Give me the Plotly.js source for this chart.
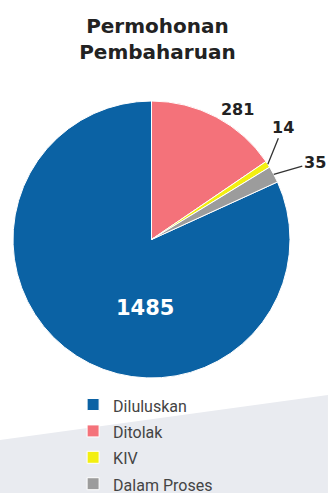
<!DOCTYPE html>
<html>
<head>
<meta charset="utf-8">
<script src="https://cdn.plot.ly/plotly-3.0.1.min.js"></script>
<style>html,body{margin:0;padding:0;background:#fff;}#chart{width:328px;height:493px;}</style>
</head>
<body>
<div id="chart"></div>
<script>
const categories = ['Diluluskan', 'Ditolak', 'KIV', 'Dalam Proses'];
const values = [1485, 281, 14, 35];
const colors = ['#0b62a4', '#f4727a', '#f3ef10', '#9c9c9c'];
const chartTitle = 'Permohonan<br>Pembaharuan';

const total = values.reduce((a, b) => a + b, 0);
const startRotation = (1 - values[0] / total) * 360;

// mid-angle (clockwise from 12 o'clock) of slice i, derived from the values
function midAngle(i) {
  let before = 0;
  for (let k = 0; k < i; k++) before += values[k];
  const startDeg = startRotation + before / total * 360;
  return (startDeg + values[i] / total * 180) * Math.PI / 180;
}
// point on the pie rim in paper coordinates (pie fills the square domain)
function rimPoint(i) {
  const a = midAngle(i);
  return { x: 0.5 + 0.5 * Math.sin(a), y: 0.5 + 0.5 * Math.cos(a) };
}

const trace = {
  type: 'pie',
  labels: categories.map(c => '<span style="font-size:16px">' + c + '</span>'),
  values: values,
  sort: false,
  direction: 'clockwise',
  rotation: startRotation,
  marker: { colors: colors, line: { color: '#ffffff', width: 1 } },
  texttemplate: ['', '%{value}', '', ''],
  textposition: ['none', 'outside', 'none', 'none'],
  outsidetextfont: { family: 'DejaVu Sans', size: 16, color: '#222222', weight: 'bold' },
  hoverinfo: 'label+value',
  showlegend: true
};

const labelFont = { family: 'DejaVu Sans', size: 16, color: '#222222', weight: 'bold' };
const p2 = rimPoint(2), p3 = rimPoint(3);

const annotations = [
  {
    xref: 'paper', yref: 'paper', x: 0.4765, y: 0.202,
    text: String(values[0]), showarrow: false,
    font: { family: 'DejaVu Sans', size: 21, color: '#ffffff', weight: 'bold' }
  },
  {
    xref: 'paper', yref: 'paper', x: p2.x, y: p2.y,
    text: String(values[2]), showarrow: true, arrowhead: 0,
    arrowwidth: 1.3, arrowcolor: '#333333', standoff: 0,
    ax: 15, ay: -37, font: labelFont
  },
  {
    xref: 'paper', yref: 'paper', x: p3.x, y: p3.y,
    text: String(values[3]), showarrow: true, arrowhead: 0,
    arrowwidth: 1.3, arrowcolor: '#333333', standoff: 0,
    ax: 41, ay: -12, font: labelFont
  }
];

const layout = {
  width: 328,
  height: 493,
  margin: { l: 13, r: 38, t: 101, b: 115, autoexpand: false },
  paper_bgcolor: '#ffffff',
  title: {
    text: chartTitle,
    font: { family: 'DejaVu Sans', size: 20, color: '#222222', weight: 'bold' },
    x: 0.48, xanchor: 'center',
    y: 0.934, yanchor: 'top'
  },
  legend: {
    x: 0.217, xanchor: 'left',
    y: -0.030, yanchor: 'top',
    font: { family: 'Roboto', size: 18, color: '#444444' },
    bgcolor: 'rgba(0,0,0,0)'
  },
  annotations: annotations,
  shapes: [{
    type: 'path', xref: 'paper', yref: 'paper', layer: 'below',
    path: 'M -0.047 -0.224 L 1.137 -0.061 L 1.137 -0.5 L -0.047 -0.5 Z',
    fillcolor: '#e9ebf0', line: { width: 0 }
  }]
};

Plotly.newPlot('chart', [trace], layout, { displayModeBar: false, staticPlot: true });
</script>
</body>
</html>
